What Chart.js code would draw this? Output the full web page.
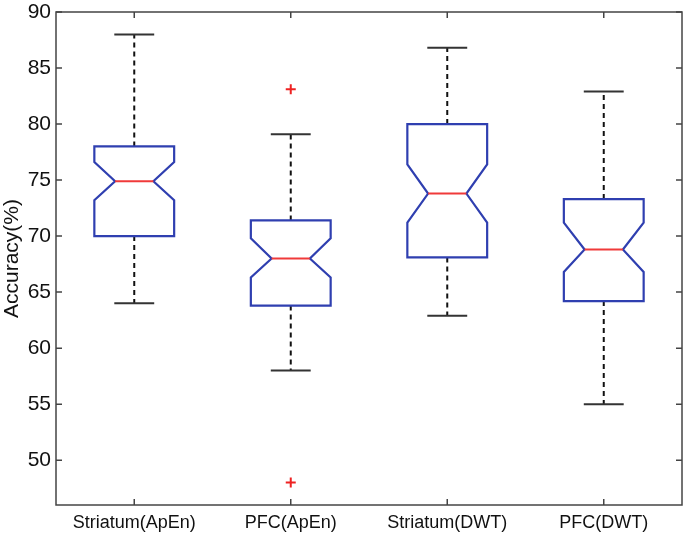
<!DOCTYPE html>
<html>
<head>
    <title>Accuracy Box Plot</title>
    <script src="https://cdn.jsdelivr.net/npm/chart.js"></script>
    <style>
        html, body { margin: 0; padding: 0; background: #fff; overflow: hidden; }
        #wrap { width: 685px; height: 534px; }
    </style>
</head>
<body>
    <div id="wrap"><canvas id="boxChart"></canvas></div>
    <script>
        // box plot values
        var categories = ['Striatum(ApEn)', 'PFC(ApEn)', 'Striatum(DWT)', 'PFC(DWT)'];
        var whiskerLow = [64.0, 58.0, 62.9, 55.0];
        var q1 = [70.0, 63.8, 68.1, 64.2];
        var notchLow = [73.2, 66.3, 71.2, 66.8];
        var median = [74.9, 68.0, 73.8, 68.8];
        var notchHigh = [76.6, 69.8, 76.4, 71.2];
        var q3 = [78.0, 71.4, 80.0, 73.3];
        var whiskerHigh = [88.0, 79.1, 86.8, 82.9];
        var outliers = [[], [83.1, 48.0], [], []];
        var yTicks = [50, 55, 60, 65, 70, 75, 80, 85, 90];

        var outlierPoints = [];
        outliers.forEach(function (list, i) {
            list.forEach(function (v) {
                outlierPoints.push({ x: categories[i], y: v });
            });
        });

        // draws the frame, inner ticks and the notched boxes
        var boxPlugin = {
            id: 'notchedBoxes',
            afterDatasetsDraw: function (chart) {
                var ctx = chart.ctx;
                var xs = chart.scales.x, ys = chart.scales.y;
                var area = chart.chartArea;
                var catW = (area.right - area.left) / categories.length;
                var half = catW * 0.255;
                var notchHalf = half * 0.48;
                var capHalf = half * 0.5;

                ctx.save();
                // frame
                ctx.strokeStyle = '#444';
                ctx.lineWidth = 1.5;
                ctx.strokeRect(area.left, area.top, area.right - area.left, area.bottom - area.top);

                // inward ticks
                ctx.beginPath();
                yTicks.forEach(function (t) {
                    var py = ys.getPixelForValue(t);
                    ctx.moveTo(area.left, py); ctx.lineTo(area.left + 6, py);
                    ctx.moveTo(area.right, py); ctx.lineTo(area.right - 6, py);
                });
                categories.forEach(function (c, i) {
                    var px = xs.getPixelForValue(i);
                    ctx.moveTo(px, area.bottom); ctx.lineTo(px, area.bottom - 6);
                    ctx.moveTo(px, area.top); ctx.lineTo(px, area.top + 6);
                });
                ctx.stroke();

                categories.forEach(function (c, i) {
                    var cx = xs.getPixelForValue(i);
                    var yq1 = ys.getPixelForValue(q1[i]);
                    var yq3 = ys.getPixelForValue(q3[i]);
                    var ynl = ys.getPixelForValue(notchLow[i]);
                    var ynh = ys.getPixelForValue(notchHigh[i]);
                    var ym = ys.getPixelForValue(median[i]);
                    var ywl = ys.getPixelForValue(whiskerLow[i]);
                    var ywh = ys.getPixelForValue(whiskerHigh[i]);

                    // whiskers
                    ctx.strokeStyle = '#111';
                    ctx.lineWidth = 2;
                    ctx.setLineDash([5, 4]);
                    ctx.beginPath();
                    ctx.moveTo(cx, yq3); ctx.lineTo(cx, ywh);
                    ctx.moveTo(cx, yq1); ctx.lineTo(cx, ywl);
                    ctx.stroke();
                    ctx.setLineDash([]);
                    ctx.strokeStyle = '#333';
                    ctx.beginPath();
                    ctx.moveTo(cx - capHalf, ywh); ctx.lineTo(cx + capHalf, ywh);
                    ctx.moveTo(cx - capHalf, ywl); ctx.lineTo(cx + capHalf, ywl);
                    ctx.stroke();

                    // notched box
                    ctx.strokeStyle = '#2f3fb0';
                    ctx.lineWidth = 2.2;
                    ctx.beginPath();
                    ctx.moveTo(cx - half, yq3);
                    ctx.lineTo(cx + half, yq3);
                    ctx.lineTo(cx + half, ynh);
                    ctx.lineTo(cx + notchHalf, ym);
                    ctx.lineTo(cx + half, ynl);
                    ctx.lineTo(cx + half, yq1);
                    ctx.lineTo(cx - half, yq1);
                    ctx.lineTo(cx - half, ynl);
                    ctx.lineTo(cx - notchHalf, ym);
                    ctx.lineTo(cx - half, ynh);
                    ctx.closePath();
                    ctx.stroke();

                    // median
                    ctx.strokeStyle = '#f03a3a';
                    ctx.lineWidth = 2;
                    ctx.beginPath();
                    ctx.moveTo(cx - notchHalf, ym); ctx.lineTo(cx + notchHalf, ym);
                    ctx.stroke();
                });
                ctx.restore();
            }
        };

        var chart = new Chart(document.getElementById('boxChart'), {
            type: 'scatter',
            data: {
                labels: categories,
                datasets: [{
                    label: 'Outliers',
                    data: outlierPoints,
                    pointStyle: 'cross',
                    radius: 5,
                    borderColor: '#ee2222',
                    borderWidth: 2
                }]
            },
            options: {
                responsive: true,
                maintainAspectRatio: false,
                animation: false,
                layout: { autoPadding: false, padding: { top: 12, right: 3, left: 0, bottom: 0 } },
                plugins: {
                    legend: { display: false },
                    tooltip: { enabled: false }
                },
                scales: {
                    x: {
                        type: 'category',
                        labels: categories,
                        offset: true,
                        grid: { display: false, drawTicks: false },
                        border: { display: false },
                        ticks: {
                            color: '#111',
                            padding: 7,
                            maxRotation: 0,
                            font: { family: 'Liberation Sans, Arial, sans-serif', size: 18 }
                        },
                        afterFit: function (scale) {
                            scale.height = 29;
                            scale.paddingLeft = 0;
                            scale.paddingRight = 0;
                        }
                    },
                    y: {
                        min: 46,
                        max: 90,
                        afterBuildTicks: function (scale) {
                            scale.ticks = yTicks.map(function (v) { return { value: v }; });
                        },
                        grid: { display: false, drawTicks: false },
                        border: { display: false },
                        ticks: {
                            color: '#111',
                            padding: 5,
                            font: { family: 'Liberation Sans, Arial, sans-serif', size: 21 }
                        },
                        title: {
                            display: true,
                            text: 'Accuracy(%)',
                            color: '#111',
                            padding: 0,
                            font: { family: 'Liberation Sans, Arial, sans-serif', size: 21 }
                        },
                        afterFit: function (scale) {
                            scale.width = 56;
                            scale.paddingTop = 0;
                            scale.paddingBottom = 0;
                        }
                    }
                }
            },
            plugins: [boxPlugin]
        });
    </script>
</body>
</html>
